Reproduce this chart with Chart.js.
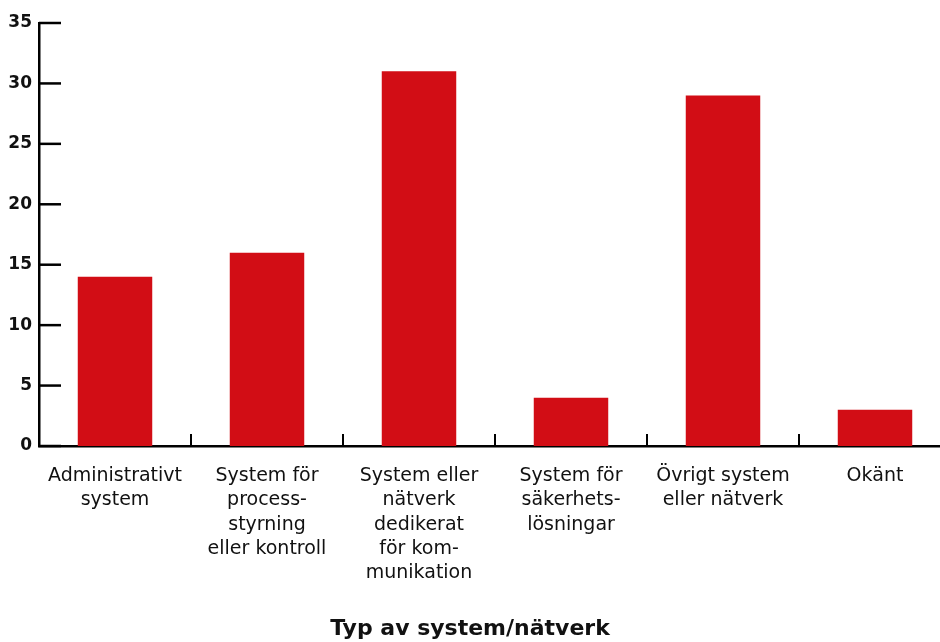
<!DOCTYPE html>
<html>
<head>
<meta charset="utf-8">
<script src="https://cdn.jsdelivr.net/npm/chart.js@4"></script>
<style>
  html, body { margin: 0; padding: 0; background: #fff; overflow: hidden; }
  #wrap { width: 960px; height: 642px; }
</style>
</head>
<body>
<div id="wrap"><canvas id="chart" width="960" height="642"></canvas></div>
<script>
const categories = [
    ['Administrativt', 'system'],
    ['System för', 'process-', 'styrning', 'eller kontroll'],
    ['System eller', 'nätverk', 'dedikerat', 'för kom-', 'munikation'],
    ['System för', 'säkerhets-', 'lösningar'],
    ['Övrigt system', 'eller nätverk'],
    ['Okänt']
];
const counts = [14, 16, 31, 4, 29, 3];
const yMax = 35;
const yStep = 5;
const axisTitle = 'Typ av system/nätverk';

const fontFamily = "'DejaVu Sans', sans-serif";

// tick marks drawn inside the plot, like the original
const tickMarks = {
    id: 'tickMarks',
    afterDraw(chart) {
        const { ctx, chartArea, scales } = chart;
        const x = scales.x, y = scales.y;
        const base = y.getPixelForValue(0);
        ctx.save();
        ctx.strokeStyle = '#000';
        ctx.lineWidth = 2.5;
        y.ticks.forEach(t => {
            const py = y.getPixelForValue(t.value);
            ctx.beginPath();
            ctx.moveTo(chartArea.left, py);
            ctx.lineTo(chartArea.left + 22, py);
            ctx.stroke();
        });
        ctx.lineWidth = 2;
        for (let i = 1; i < categories.length; i++) {
            const px = (x.getPixelForValue(i - 1) + x.getPixelForValue(i)) / 2;
            ctx.beginPath();
            ctx.moveTo(px, base);
            ctx.lineTo(px, base - 12);
            ctx.stroke();
        }
        ctx.restore();
    }
};

const ctx = document.getElementById('chart').getContext('2d');
new Chart(ctx, {
    type: 'bar',
    data: {
        labels: categories,
        datasets: [{
            data: counts,
            backgroundColor: '#d20d15',
            borderWidth: 0,
            barPercentage: 0.49,
            categoryPercentage: 1
        }]
    },
    plugins: [tickMarks],
    options: {
        responsive: false,
        animation: false,
        // left pad is negative so the bottom title centres on the visible 940px
        layout: { padding: { top: 23, right: 9, bottom: 0, left: -11 } },
        plugins: {
            legend: { display: false },
            tooltip: { enabled: false },
            title: {
                display: true,
                position: 'bottom',
                text: axisTitle,
                color: '#111',
                padding: 0,
                font: { family: fontFamily, size: 22, weight: 'bold', lineHeight: 1.15 }
            }
        },
        scales: {
            x: {
                grid: { display: false, drawTicks: false },
                border: { display: true, color: '#000', width: 2.5 },
                ticks: {
                    color: '#111',
                    padding: 18,
                    maxRotation: 0,
                    autoSkip: false,
                    font: { family: fontFamily, size: 19, lineHeight: 1.28 }
                },
                afterFit(scale) { scale.height = 170.7; }
            },
            y: {
                min: 0,
                max: yMax,
                grid: { display: false, drawTicks: false },
                border: { display: true, color: '#000', width: 2.5 },
                ticks: {
                    stepSize: yStep,
                    color: '#111',
                    padding: 7,
                    font: { family: fontFamily, size: 17, weight: 'bold' }
                },
                afterFit(scale) { scale.width = 50; }
            }
        }
    }
});
</script>
</body>
</html>
